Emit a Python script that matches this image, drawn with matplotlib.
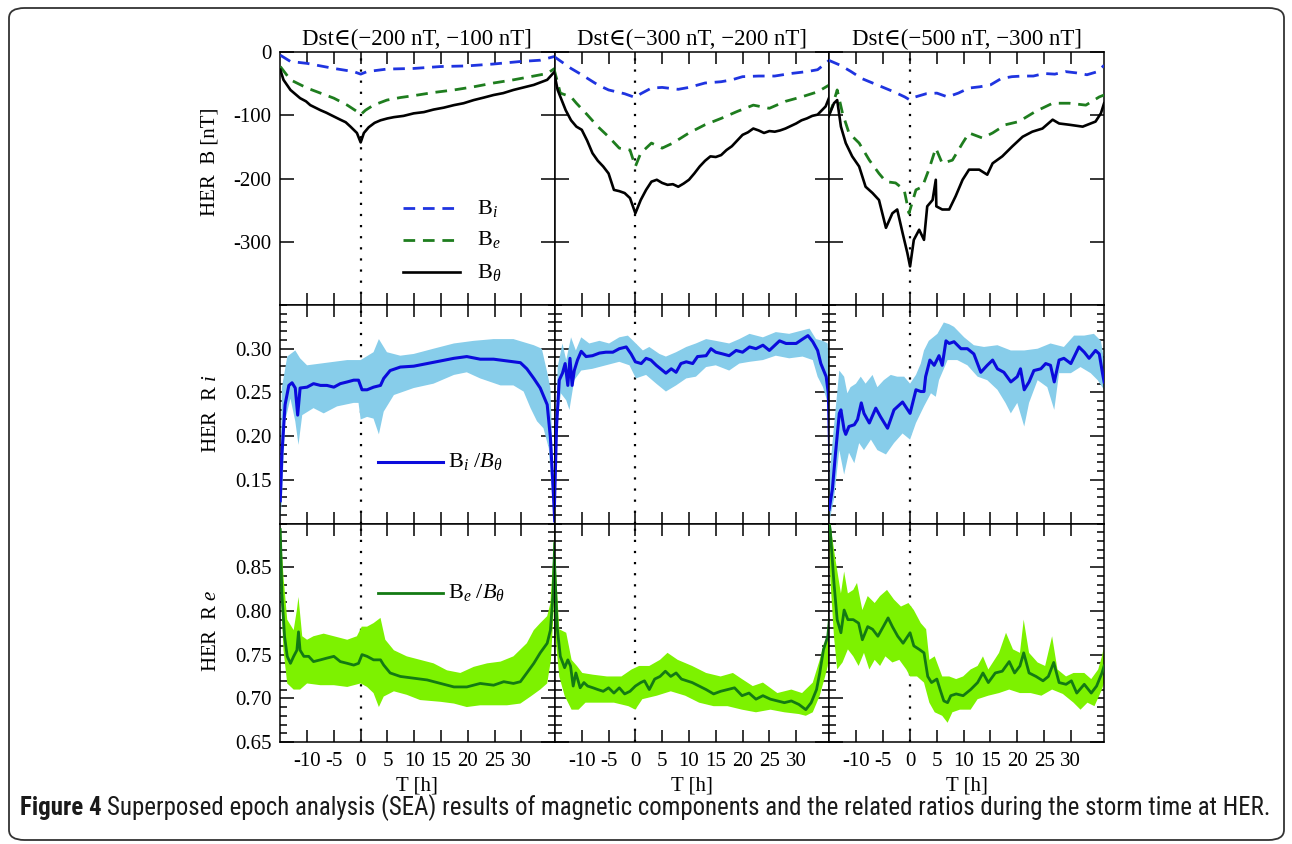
import numpy as np
import matplotlib
matplotlib.use('Agg')
import matplotlib.pyplot as plt
from matplotlib.patches import FancyBboxPatch
from matplotlib import font_manager as fm
from matplotlib.ticker import MultipleLocator

# ------------------------------------------------------------------ data
titles = ["Dst\u2208(\u2212200 nT, \u2212100 nT]",
          "Dst\u2208(\u2212300 nT, \u2212200 nT]",
          "Dst\u2208(\u2212500 nT, \u2212300 nT]"]
xticks = [-10, -5, 0, 5, 10, 15, 20, 25, 30]
yticks_b = [-300, -200, -100, 0]
yticks_ri = [0.15, 0.20, 0.25, 0.30]
yticks_re = [0.65, 0.70, 0.75, 0.80, 0.85]

# ---- top row: B components [nT]
t_bi1 = [-15, -13.1, -10, -5, -1.3, 0, 1.2, 4.9, 9.9, 14.9, 19.8, 24.8, 29.8, 33.5, 36.2]
bi1 = [-5, -15, -18, -26, -31, -35, -31, -27, -26, -23, -22, -19, -15, -13, -7]
t_be1 = [-15, -13.1, -10, -7.5, -5, -2.5, -0.7, 0, 0.9, 2.4, 4.9, 7.4, 9.9, 13.6, 17.4, 21.1, 24.8, 28.5, 32.3, 34.8, 36.2]
be1 = [-23, -44, -57, -65, -73, -84, -94, -99, -92, -84, -76, -72, -69, -64, -60, -55, -49, -44, -38, -34, -26]
t_bt1 = [-15, -14.4, -13.1, -11.3, -10.2, -9.4, -7.5, -6.4, -5.7, -3.8, -2.8, -1.9, -0.7, 0, 0.6, 1.5, 2.6, 3.7, 5.0, 6.2, 8.0, 9.9, 11.8, 13.6, 15.5, 17.4, 19.2, 21.1, 23.0, 24.8, 26.6, 28.5, 30.4, 32.3, 34.8, 36.2]
bt1 = [-28, -44, -60, -73, -78, -84, -92, -96, -99, -107, -111, -118, -128, -143, -128, -119, -112, -108, -105, -103, -101, -97, -95, -91, -88, -84, -81, -76, -72, -68, -65, -60, -56, -52, -44, -31]

t_bi2 = [-15.2, -12, -10, -7, -5, -2, 0, 1, 3, 5, 8, 10, 13, 16, 18, 20, 23, 26, 29, 32, 34, 36.2]
bi2 = [-7, -26, -36, -52, -60, -66, -72, -66, -57, -56, -59, -56, -49, -47, -44, -39, -38, -38, -34, -31, -28, -13]
t_be2 = [-15.2, -14, -12, -11, -9, -7, -5, -3, -1, 0, 1, 3, 5, 7, 10, 13, 16, 19, 22, 25, 28, 31, 34, 36.2]
be2 = [-26, -65, -71, -81, -99, -118, -134, -152, -155, -181, -160, -144, -152, -144, -128, -115, -105, -94, -84, -89, -78, -71, -63, -52]
t_bt2 = [-15.2, -14.5, -13, -12, -11, -10, -9, -8, -7, -6, -5, -4, -3, -2, -1, 0, 1, 2, 3, 4, 5, 6, 7, 8, 9, 10, 11, 12, 13, 14, 15, 16, 17, 18, 19, 20, 21, 22, 23, 24, 25, 26, 27, 28, 29, 30, 31, 32, 33, 34, 35.5, 36.2]
bt2 = [-31, -60, -92, -108, -118, -123, -140, -160, -172, -181, -192, -218, -220, -223, -231, -255, -234, -218, -205, -202, -207, -210, -209, -213, -208, -202, -192, -181, -172, -165, -166, -163, -155, -149, -140, -131, -127, -121, -124, -128, -125, -126, -124, -121, -117, -113, -108, -105, -101, -99, -86, -71]

t_bi3 = [-15.2, -13, -11, -9, -7, -5, -3, -1, 0, 1, 3, 5, 7, 9, 11, 13, 15, 17, 19, 21, 23, 25, 27, 29, 31, 33, 35, 36.2]
bi3 = [-13, -21, -31, -42, -49, -56, -63, -71, -76, -71, -66, -65, -71, -65, -57, -55, -52, -42, -39, -38, -38, -34, -35, -31, -33, -36, -31, -21]
t_be3 = [-15.2, -14.5, -13.6, -12.6, -11.4, -9.5, -7.6, -5.8, -4.5, -2.7, -1.1, -0.2, 1.1, 2.3, 3.5, 4.8, 6.0, 7.9, 9.8, 11.0, 13.5, 15.4, 17.8, 20.3, 23.4, 26.6, 29.7, 32.8, 35.3, 36.2]
be3 = [-100, -86, -60, -97, -128, -144, -171, -192, -205, -207, -218, -255, -218, -213, -186, -152, -176, -171, -144, -128, -136, -128, -115, -110, -94, -81, -81, -84, -71, -68]
t_bt3 = [-15.2, -14.2, -13.6, -12.9, -12.0, -10.8, -9.5, -8.3, -7.0, -5.8, -4.5, -3.3, -2.4, -1.4, -0.5, 0, 0.7, 1.7, 2.6, 3.2, 4.2, 4.8, 4.9, 6.0, 7.3, 8.5, 9.8, 11.0, 12.9, 14.4, 15.4, 17.2, 19.1, 21.0, 22.8, 24.7, 26.6, 27.8, 29.7, 32.2, 34.6, 35.6, 36.2]
bt3 = [-102, -81, -76, -118, -144, -165, -181, -213, -223, -234, -278, -255, -249, -286, -318, -339, -297, -281, -297, -244, -234, -202, -244, -249, -249, -228, -202, -186, -186, -194, -176, -165, -149, -134, -126, -121, -107, -113, -115, -118, -110, -97, -81]

# ---- middle row: Ri = Bi/Btheta (mean and band)
t_ri1 = [-15.0, -14.7, -14.1, -13.4, -12.8, -12.2, -11.75, -11.3, -10.0, -8.8, -7.5, -6.3, -5.0, -3.8, -2.5, -1.3, -0.4, 0.25, 1.2, 2.4, 3.7, 4.3, 5.5, 7.4, 9.9, 12.4, 14.9, 17.4, 19.8, 22.3, 24.8, 27.3, 29.8, 31.0, 32.3, 33.5, 34.8, 35.4, 35.9, 36.2]
ri1 = [0.126, 0.179, 0.236, 0.258, 0.261, 0.255, 0.224, 0.255, 0.256, 0.260, 0.258, 0.258, 0.256, 0.260, 0.262, 0.264, 0.264, 0.253, 0.253, 0.256, 0.258, 0.266, 0.275, 0.279, 0.280, 0.283, 0.286, 0.289, 0.291, 0.288, 0.288, 0.286, 0.284, 0.277, 0.266, 0.255, 0.236, 0.198, 0.141, 0.103]
t_ri1_hi = [-15.0, -14.7, -13.7, -12.2, -11.3, -10.0, -7.5, -5.0, -2.5, 0, 2.4, 3.4, 4.9, 7.4, 9.9, 13.6, 17.4, 21.1, 24.8, 28.5, 32.3, 33.8, 34.8, 35.4, 36.0, 36.2]
ri1_hi = [0.126, 0.255, 0.291, 0.298, 0.289, 0.281, 0.283, 0.285, 0.287, 0.287, 0.296, 0.311, 0.296, 0.292, 0.294, 0.300, 0.306, 0.309, 0.311, 0.311, 0.304, 0.300, 0.273, 0.255, 0.141, 0.105]
t_ri1_lo = [-15.0, -14.7, -14.1, -13.1, -12.2, -11.6, -10.9, -8.8, -6.9, -4.4, -1.3, -0.4, 0, 1.2, 2.4, 3.4, 4.3, 6.2, 9.9, 13.6, 17.4, 19.8, 22.3, 26.1, 28.5, 30.4, 31.7, 32.9, 34.1, 35.1, 35.7, 36.2]
ri1_lo = [0.103, 0.126, 0.217, 0.243, 0.217, 0.190, 0.224, 0.232, 0.226, 0.234, 0.238, 0.238, 0.219, 0.222, 0.220, 0.202, 0.228, 0.247, 0.255, 0.260, 0.270, 0.273, 0.266, 0.258, 0.258, 0.251, 0.232, 0.217, 0.209, 0.186, 0.133, 0.100]

t_ri2 = [-15.1, -14.7, -14.2, -13.6, -13.1, -12.6, -12.2, -11.8, -11.4, -10.8, -10.1, -9.2, -8.0, -6.7, -5.5, -4.2, -3.0, -1.7, -0.8, 0, 1.1, 2.0, 2.9, 3.9, 5.1, 5.7, 6.7, 7.6, 8.5, 9.5, 10.7, 11.6, 13.2, 14.1, 15.0, 16.3, 17.5, 18.8, 20.0, 21.3, 22.5, 23.8, 25.0, 26.9, 28.1, 30.0, 31.2, 32.2, 33.1, 34.0, 34.6, 35.6, 36.0, 36.5]
ri2 = [0.120, 0.211, 0.264, 0.272, 0.283, 0.258, 0.289, 0.258, 0.275, 0.287, 0.297, 0.291, 0.292, 0.295, 0.296, 0.296, 0.300, 0.302, 0.294, 0.285, 0.283, 0.289, 0.287, 0.281, 0.275, 0.272, 0.277, 0.273, 0.283, 0.285, 0.283, 0.291, 0.292, 0.300, 0.296, 0.294, 0.292, 0.298, 0.296, 0.302, 0.300, 0.304, 0.298, 0.309, 0.306, 0.306, 0.311, 0.315, 0.308, 0.298, 0.283, 0.268, 0.249, 0.116]
t_ri2_hi = [-15.1, -14.5, -13.6, -12.9, -12.0, -11.1, -10.1, -8.6, -6.7, -4.9, -3.0, -1.4, 0.1, 1.4, 2.6, 4.5, 5.7, 7.6, 9.5, 11.3, 13.2, 15.0, 17.5, 19.4, 21.3, 23.8, 26.2, 28.7, 31.2, 32.5, 33.7, 35.0, 35.9, 36.3]
ri2_hi = [0.135, 0.279, 0.306, 0.287, 0.313, 0.298, 0.313, 0.306, 0.309, 0.306, 0.313, 0.315, 0.306, 0.298, 0.302, 0.294, 0.291, 0.296, 0.302, 0.306, 0.311, 0.309, 0.306, 0.311, 0.317, 0.313, 0.319, 0.317, 0.321, 0.323, 0.311, 0.309, 0.306, 0.211]
t_ri2_lo = [-15.1, -14.5, -13.9, -12.9, -12.3, -11.4, -10.1, -8.0, -5.5, -3.0, -1.1, 0.1, 2.0, 3.9, 5.7, 7.6, 9.5, 11.3, 13.2, 15.0, 17.5, 19.4, 21.3, 23.8, 26.2, 28.7, 31.2, 33.1, 34.0, 35.0, 35.9, 36.3]
ri2_lo = [0.113, 0.219, 0.249, 0.241, 0.230, 0.264, 0.275, 0.277, 0.281, 0.285, 0.281, 0.266, 0.270, 0.260, 0.251, 0.258, 0.266, 0.268, 0.279, 0.281, 0.275, 0.283, 0.285, 0.287, 0.292, 0.289, 0.291, 0.287, 0.268, 0.256, 0.238, 0.116]

t_ri3 = [-15.1, -14.5, -13.9, -13.2, -12.9, -12.3, -12.0, -11.4, -10.4, -9.8, -9.1, -8.6, -7.6, -6.4, -5.5, -4.2, -3.0, -1.4, 0, 1.1, 2.0, 2.6, 2.9, 3.7, 4.5, 5.4, 6.0, 6.7, 7.3, 8.2, 9.5, 10.7, 11.9, 13.2, 14.4, 15.4, 16.3, 17.5, 18.8, 20.0, 20.6, 21.3, 22.2, 23.1, 24.4, 25.3, 26.2, 26.9, 27.8, 28.7, 30.0, 31.5, 32.5, 33.4, 34.6, 35.3, 35.9, 36.2]
ri3 = [0.116, 0.139, 0.181, 0.226, 0.230, 0.207, 0.202, 0.211, 0.213, 0.219, 0.238, 0.226, 0.215, 0.232, 0.222, 0.209, 0.230, 0.239, 0.226, 0.253, 0.251, 0.251, 0.268, 0.287, 0.281, 0.292, 0.281, 0.309, 0.306, 0.308, 0.300, 0.300, 0.294, 0.273, 0.281, 0.287, 0.277, 0.273, 0.262, 0.268, 0.277, 0.253, 0.262, 0.275, 0.277, 0.283, 0.281, 0.262, 0.287, 0.289, 0.283, 0.302, 0.296, 0.289, 0.298, 0.294, 0.272, 0.262]
t_ri3_hi = [-15.1, -14.2, -13.2, -12.3, -11.7, -11.1, -10.1, -9.2, -8.3, -7.0, -6.1, -4.9, -3.6, -2.4, -1.1, 0, 1.1, 2.0, 2.6, 3.5, 5.1, 6.3, 7.3, 8.2, 10.1, 11.9, 13.8, 16.3, 18.8, 21.3, 23.8, 26.2, 28.7, 30.6, 32.5, 34.3, 35.6, 36.2]
ri3_hi = [0.150, 0.211, 0.275, 0.268, 0.249, 0.256, 0.260, 0.268, 0.260, 0.270, 0.256, 0.264, 0.270, 0.268, 0.268, 0.260, 0.270, 0.283, 0.298, 0.309, 0.317, 0.330, 0.328, 0.325, 0.313, 0.304, 0.302, 0.304, 0.298, 0.298, 0.300, 0.306, 0.302, 0.315, 0.315, 0.317, 0.309, 0.287]
t_ri3_lo = [-15.1, -14.2, -13.2, -12.3, -11.4, -10.4, -9.5, -8.6, -7.3, -6.1, -4.5, -3.0, -1.4, 0, 1.1, 2.6, 3.9, 4.8, 5.4, 7.0, 8.8, 10.7, 12.6, 14.4, 16.3, 17.8, 18.8, 20.0, 21.3, 22.2, 23.8, 25.6, 26.9, 27.8, 30.0, 31.8, 33.7, 35.0, 36.2]
ri3_lo = [0.101, 0.128, 0.184, 0.156, 0.181, 0.169, 0.192, 0.184, 0.196, 0.184, 0.179, 0.192, 0.203, 0.196, 0.215, 0.234, 0.249, 0.245, 0.264, 0.287, 0.287, 0.281, 0.268, 0.264, 0.253, 0.238, 0.226, 0.238, 0.211, 0.238, 0.264, 0.256, 0.230, 0.272, 0.272, 0.279, 0.272, 0.264, 0.253]

# ---- bottom row: Re = Be/Btheta (mean and band)
t_re1 = [-15.0, -14.7, -14.2, -13.7, -13.1, -12.5, -11.9, -11.6, -11.3, -10.6, -9.7, -8.8, -7.5, -6.3, -5.0, -3.8, -2.5, -1.3, -0.4, 0.25, 1.2, 2.4, 3.7, 4.3, 5.5, 7.4, 9.9, 12.4, 14.9, 17.4, 19.8, 22.3, 24.8, 26.7, 28.5, 29.8, 31.0, 32.3, 33.5, 34.8, 35.4, 35.9, 36.2]
re1 = [0.893, 0.820, 0.771, 0.748, 0.740, 0.748, 0.755, 0.776, 0.755, 0.748, 0.748, 0.742, 0.744, 0.746, 0.748, 0.742, 0.740, 0.738, 0.740, 0.750, 0.748, 0.744, 0.744, 0.738, 0.729, 0.725, 0.723, 0.721, 0.717, 0.713, 0.713, 0.717, 0.715, 0.719, 0.717, 0.719, 0.729, 0.740, 0.752, 0.763, 0.778, 0.820, 0.877]
t_re1_hi = [-15.0, -14.4, -13.7, -12.5, -11.9, -11.6, -10.9, -10.0, -8.8, -6.9, -5.0, -2.5, -0.7, 0.2, 1.2, 2.4, 3.7, 4.6, 6.2, 8.6, 11.1, 13.6, 16.1, 18.6, 21.1, 23.6, 26.1, 28.5, 31.0, 32.3, 33.5, 34.8, 35.4, 35.9, 36.2]
re1_hi = [0.900, 0.839, 0.790, 0.778, 0.801, 0.816, 0.771, 0.767, 0.771, 0.774, 0.771, 0.767, 0.771, 0.782, 0.782, 0.786, 0.792, 0.767, 0.755, 0.748, 0.744, 0.740, 0.732, 0.729, 0.736, 0.740, 0.742, 0.748, 0.763, 0.778, 0.786, 0.794, 0.809, 0.858, 0.900]
t_re1_lo = [-15.0, -14.4, -13.7, -12.5, -11.3, -10.0, -7.5, -5.0, -2.5, 0, 1.2, 2.4, 3.4, 4.3, 6.2, 8.6, 11.1, 14.9, 17.4, 19.8, 22.3, 24.8, 27.3, 29.8, 31.7, 33.5, 34.8, 35.5, 36.0, 36.2]
re1_lo = [0.839, 0.755, 0.717, 0.710, 0.710, 0.717, 0.715, 0.715, 0.713, 0.717, 0.713, 0.706, 0.690, 0.702, 0.708, 0.704, 0.698, 0.696, 0.694, 0.690, 0.692, 0.692, 0.692, 0.694, 0.702, 0.710, 0.717, 0.744, 0.801, 0.860]

t_re2 = [-15.1, -14.6, -14.0, -13.2, -12.6, -12.1, -11.6, -11.1, -10.3, -9.6, -8.9, -7.9, -7.0, -6.0, -5.0, -4.0, -3.0, -2.0, -1.0, 0, 1.0, 1.7, 2.6, 3.6, 4.6, 5.6, 6.6, 7.6, 8.6, 9.6, 10.6, 11.9, 13.2, 14.6, 15.9, 17.2, 18.5, 19.9, 21.2, 22.5, 23.8, 25.2, 26.5, 27.8, 29.1, 30.5, 31.8, 32.8, 33.8, 34.4, 35.1, 35.9, 36.2]
re2 = [0.858, 0.782, 0.748, 0.735, 0.744, 0.737, 0.714, 0.729, 0.712, 0.718, 0.714, 0.712, 0.710, 0.708, 0.712, 0.706, 0.712, 0.705, 0.708, 0.714, 0.718, 0.720, 0.710, 0.722, 0.725, 0.731, 0.725, 0.729, 0.722, 0.720, 0.718, 0.714, 0.710, 0.705, 0.708, 0.710, 0.712, 0.703, 0.706, 0.699, 0.703, 0.699, 0.697, 0.695, 0.697, 0.693, 0.687, 0.695, 0.710, 0.729, 0.756, 0.771, 0.790]
t_re2_hi = [-15.1, -14.2, -12.9, -11.9, -10.9, -9.9, -7.9, -5.3, -2.6, -0.7, 0.7, 2.6, 4.6, 6.0, 7.9, 10.6, 13.2, 15.9, 18.2, 19.9, 21.9, 23.8, 26.5, 29.1, 31.1, 33.1, 34.4, 35.1, 35.9, 36.2]
re2_hi = [0.877, 0.779, 0.775, 0.744, 0.737, 0.729, 0.727, 0.725, 0.725, 0.733, 0.737, 0.737, 0.744, 0.752, 0.744, 0.737, 0.729, 0.725, 0.729, 0.722, 0.714, 0.718, 0.706, 0.710, 0.706, 0.718, 0.744, 0.760, 0.767, 0.800]
t_re2_lo = [-15.1, -14.2, -13.2, -11.9, -10.6, -9.3, -6.6, -4.0, -1.3, 0, 1.3, 4.0, 6.6, 9.3, 11.9, 14.6, 17.2, 19.9, 22.5, 25.2, 27.8, 30.5, 31.8, 33.1, 34.4, 35.4, 35.9, 36.2]
re2_lo = [0.782, 0.725, 0.703, 0.687, 0.687, 0.695, 0.695, 0.695, 0.691, 0.687, 0.699, 0.703, 0.708, 0.703, 0.695, 0.691, 0.691, 0.687, 0.684, 0.687, 0.684, 0.682, 0.680, 0.684, 0.703, 0.725, 0.737, 0.760]

t_re3 = [-15.1, -14.9, -14.2, -13.6, -12.9, -12.3, -11.6, -10.6, -9.6, -8.9, -7.9, -7.0, -6.0, -5.0, -4.1, -3.3, -2.3, -1.3, 0, 0.7, 1.7, 2.6, 3.3, 4.0, 5.0, 5.6, 6.3, 7.0, 7.6, 8.6, 9.9, 11.3, 12.6, 13.6, 14.6, 15.9, 17.2, 18.5, 19.5, 20.5, 21.2, 22.2, 23.5, 24.8, 25.8, 26.8, 27.8, 29.1, 30.1, 31.1, 32.5, 33.8, 34.8, 35.8, 36.2]
re3 = [0.900, 0.893, 0.832, 0.790, 0.775, 0.801, 0.790, 0.790, 0.786, 0.767, 0.782, 0.779, 0.771, 0.782, 0.792, 0.782, 0.771, 0.763, 0.775, 0.760, 0.756, 0.752, 0.725, 0.718, 0.722, 0.710, 0.697, 0.695, 0.703, 0.705, 0.703, 0.710, 0.718, 0.729, 0.718, 0.729, 0.731, 0.742, 0.729, 0.737, 0.752, 0.729, 0.725, 0.720, 0.725, 0.741, 0.718, 0.716, 0.720, 0.706, 0.716, 0.706, 0.714, 0.729, 0.737]
t_re3_hi = [-15.1, -14.9, -13.9, -12.9, -12.3, -11.6, -10.6, -9.9, -8.9, -7.9, -6.6, -5.6, -4.3, -3.0, -1.7, -0.3, 0.7, 2.0, 3.0, 3.6, 4.6, 6.0, 7.3, 8.6, 9.9, 11.3, 12.6, 13.6, 14.6, 16.6, 17.9, 19.2, 20.5, 21.2, 22.2, 23.8, 25.2, 26.5, 27.5, 29.1, 30.5, 32.5, 33.8, 35.1, 35.8, 36.2]
re3_hi = [0.900, 0.900, 0.858, 0.820, 0.845, 0.820, 0.824, 0.832, 0.801, 0.817, 0.809, 0.817, 0.824, 0.813, 0.805, 0.809, 0.801, 0.786, 0.779, 0.744, 0.748, 0.725, 0.725, 0.722, 0.725, 0.733, 0.737, 0.748, 0.733, 0.752, 0.775, 0.756, 0.752, 0.790, 0.752, 0.741, 0.737, 0.771, 0.733, 0.725, 0.729, 0.729, 0.722, 0.733, 0.748, 0.760]
t_re3_lo = [-15.1, -14.9, -14.2, -13.6, -12.6, -11.6, -10.6, -9.6, -8.6, -7.6, -6.6, -5.6, -4.6, -3.3, -2.0, -0.7, 0, 1.3, 2.6, 3.6, 4.6, 6.0, 7.0, 7.9, 9.3, 11.3, 12.6, 14.6, 16.6, 18.5, 20.5, 22.5, 24.5, 26.5, 28.5, 30.5, 31.8, 33.1, 34.4, 35.8, 36.2]
re3_lo = [0.870, 0.839, 0.771, 0.733, 0.741, 0.756, 0.748, 0.737, 0.752, 0.733, 0.744, 0.737, 0.748, 0.741, 0.744, 0.733, 0.725, 0.725, 0.718, 0.695, 0.684, 0.680, 0.672, 0.684, 0.687, 0.687, 0.699, 0.703, 0.706, 0.710, 0.706, 0.706, 0.703, 0.710, 0.705, 0.695, 0.687, 0.695, 0.691, 0.710, 0.718]

# ------------------------------------------------------------------ style
W, H = 1292, 844
plt.rcParams['font.family'] = ['Liberation Serif', 'DejaVu Serif']
plt.rcParams['mathtext.fontset'] = 'custom'
plt.rcParams['mathtext.rm'] = 'Liberation Serif'
plt.rcParams['mathtext.it'] = 'Liberation Serif:italic'
plt.rcParams['mathtext.bf'] = 'Liberation Serif:bold'
plt.rcParams['axes.unicode_minus'] = False

C_BI = '#1f34e0'
C_BE = '#1e7d1e'
C_BT = '#000000'
C_RI = '#0b0bdc'
C_RI_F = '#87cdea'
C_RE = '#137a13'
C_RE_F = '#7df200'

FS = 15
FS_TITLE = 16.5

fig = plt.figure(figsize=(W / 100, H / 100), dpi=100)

col_x = [280, 554.7, 829.4]
col_w = 274.7
row_y = [(52, 305), (305, 523.5), (523.5, 742)]


def make_ax(c, r):
    x0 = col_x[c]
    ytop, ybot = row_y[r]
    return fig.add_axes([x0 / W, 1 - ybot / H, col_w / W, (ybot - ytop) / H])


def band(ax, th, hi, tl, lo, color):
    xs = np.concatenate([np.asarray(th), np.asarray(tl)[::-1]])
    ys = np.concatenate([np.asarray(hi), np.asarray(lo)[::-1]])
    ax.fill(xs, ys, color=color, lw=0, zorder=2)


top = [(t_bi1, bi1, t_be1, be1, t_bt1, bt1),
       (t_bi2, bi2, t_be2, be2, t_bt2, bt2),
       (t_bi3, bi3, t_be3, be3, t_bt3, bt3)]
mid = [(t_ri1, ri1, t_ri1_hi, ri1_hi, t_ri1_lo, ri1_lo),
       (t_ri2, ri2, t_ri2_hi, ri2_hi, t_ri2_lo, ri2_lo),
       (t_ri3, ri3, t_ri3_hi, ri3_hi, t_ri3_lo, ri3_lo)]
bot = [(t_re1, re1, t_re1_hi, re1_hi, t_re1_lo, re1_lo),
       (t_re2, re2, t_re2_hi, re2_hi, t_re2_lo, re2_lo),
       (t_re3, re3, t_re3_hi, re3_hi, t_re3_lo, re3_lo)]

XL = (-15.05, 36.2)
axes = {}
for c in range(3):
    for r in range(3):
        ax = make_ax(c, r)
        axes[(c, r)] = ax
        ax.set_xlim(*XL)
        ax.axvline(0, color='k', ls=(0, (1, 4)), lw=1.6, zorder=1)
        ax.set_xticks(xticks)
        ax.tick_params(axis='x', which='major', direction='in', top=True, bottom=True,
                       length=8.5, width=1.1, labelsize=FS, pad=7)
        ax.tick_params(axis='y', which='major', direction='in', left=True, right=True,
                       length=10, width=1.1, labelsize=FS, pad=6)
        ax.tick_params(axis='y', which='minor', direction='in', left=True, right=True,
                       length=5, width=1.1)
        for s in ax.spines.values():
            s.set_linewidth(1.1)
        if r != 2:
            ax.tick_params(axis='x', labelbottom=False)
        if c != 0:
            ax.tick_params(axis='y', labelleft=False)

        if r == 0:
            tbi, vbi, tbe, vbe, tbt, vbt = top[c]
            ax.plot(tbi, vbi, color=C_BI, lw=2.0, dashes=(4.2, 2.8), zorder=3)
            ax.plot(tbe, vbe, color=C_BE, lw=2.0, dashes=(4.2, 2.8), zorder=3)
            ax.plot(tbt, vbt, color=C_BT, lw=1.9, zorder=4)
            ax.set_ylim(-400, 0)
            ax.set_yticks(yticks_b)
            ax.set_title(titles[c], fontsize=FS_TITLE, pad=5)
        elif r == 1:
            tm, vm, th, vh, tl, vl = mid[c]
            band(ax, th, vh, tl, vl, C_RI_F)
            ax.plot(tm, vm, color=C_RI, lw=2.2, zorder=3)
            ax.set_ylim(0.10, 0.35)
            ax.set_yticks(yticks_ri)
            ax.yaxis.set_major_formatter(matplotlib.ticker.FormatStrFormatter('%.2f'))
            ax.yaxis.set_minor_locator(MultipleLocator(0.01))
        else:
            tm, vm, th, vh, tl, vl = bot[c]
            band(ax, th, vh, tl, vl, C_RE_F)
            ax.plot(tm, vm, color=C_RE, lw=2.0, zorder=3)
            ax.set_ylim(0.65, 0.90)
            ax.set_yticks(yticks_re)
            ax.yaxis.set_major_formatter(matplotlib.ticker.FormatStrFormatter('%.2f'))
            ax.yaxis.set_minor_locator(MultipleLocator(0.01))
            ax.set_xlabel('T [h]', fontsize=FS, labelpad=4)

# ---- legends (drawn in axes coordinates)
a = axes[(0, 0)]
leg_rows = [(0.383, C_BI, True, r'B$_i$'), (0.257, C_BE, True, r'B$_e$'),
            (0.130, C_BT, False, r'B$_\theta$')]
for y, col, dashed, lab in leg_rows:
    kw = dict(dashes=(4.2, 2.8)) if dashed else {}
    a.plot([0.448, 0.655], [y, y], transform=a.transAxes, color=col,
           lw=2.0 if dashed else 1.9, zorder=5, **kw)
    a.text(0.717, y, lab, transform=a.transAxes, fontsize=FS + 1, va='center', ha='left')

a = axes[(0, 1)]
a.plot([0.357, 0.594], [0.283, 0.283], transform=a.transAxes, color=C_RI, lw=2.2, zorder=5)
a.text(0.612, 0.283, r'B$_i$ /$B_\theta$', transform=a.transAxes, fontsize=FS + 1, va='center', ha='left')

a = axes[(0, 2)]
a.plot([0.357, 0.594], [0.683, 0.683], transform=a.transAxes, color=C_RE, lw=2.0, zorder=5)
a.text(0.612, 0.683, r'B$_e$ /$B_\theta$', transform=a.transAxes, fontsize=FS + 1, va='center', ha='left')

# ---- y labels
fig.text(210 / W, 1 - 162 / H, 'HER  B [nT]', rotation=90, ha='center', va='center', fontsize=FS)
fig.text(212 / W, 1 - 414 / H, r'HER  R $i$', rotation=90, ha='center', va='center', fontsize=FS)
fig.text(212 / W, 1 - 631 / H, r'HER  R $e$', rotation=90, ha='center', va='center', fontsize=FS)

# ---- border
border = FancyBboxPatch((9 / W, 4 / H), (1284 - 9) / W, (836 - 4) / H,
                        boxstyle='round,pad=0,rounding_size=0.012',
                        transform=fig.transFigure, fill=False,
                        edgecolor='#333333', lw=1.3)
fig.patches.append(border)

# ---- caption (auto-fitted to the reference line width)
names = {f.name for f in fm.fontManager.ttflist}
cap_font = 'DejaVu Sans'
for cand in ['Liberation Sans Narrow', 'Roboto Condensed', 'Open Sans Condensed',
             'Noto Sans Display', 'Noto Sans']:
    if cand in names:
        cap_font = cand
        break
cap_text = ('Superposed epoch analysis (SEA) results of magnetic components and the '
            'related ratios during the storm time at HER.')
fig.canvas.draw()
rend = fig.canvas.get_renderer()
cap_fs = 12.5
for _ in range(3):
    t1 = fig.text(20 / W, 1 - 808 / H, 'Figure 4', fontsize=cap_fs, fontweight='bold',
                  family=cap_font, ha='left', va='center', color='#1a1a1a')
    bb = t1.get_window_extent(rend)
    t2 = fig.text((bb.x1 + 5) / W, 1 - 808 / H, cap_text,
                  fontsize=cap_fs, family=cap_font, ha='left', va='center', color='#1a1a1a')
    bb2 = t2.get_window_extent(rend)
    scale = (1268 - 20) / (bb2.x1 - 20)
    if abs(scale - 1) < 0.005:
        break
    t1.remove()
    t2.remove()
    cap_fs *= scale

fig.savefig('out.png', dpi=100)
